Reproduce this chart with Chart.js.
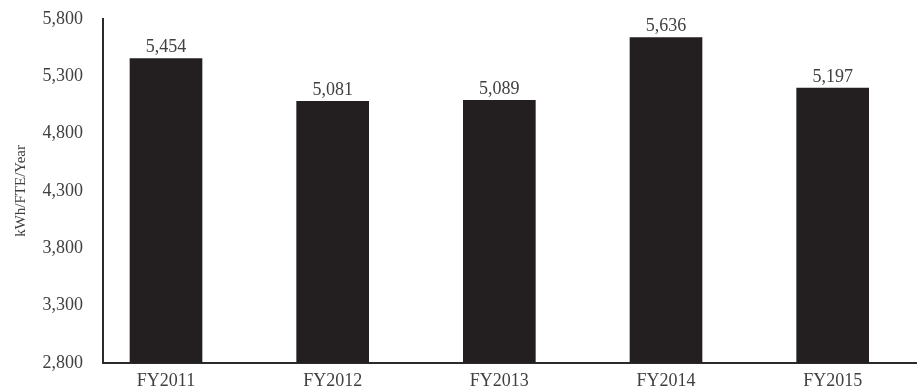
<!DOCTYPE html>
<html>
<head>
<meta charset="utf-8">
<script src="https://cdn.jsdelivr.net/npm/chart.js@4.4.0/dist/chart.umd.min.js"></script>
<style>
  html,body{margin:0;padding:0;background:#fff;}
  #wrap{width:920px;height:390px;}
</style>
</head>
<body>
<div id="wrap"><canvas id="c" width="920" height="390"></canvas></div>
<script>
const categories = ['FY2011','FY2012','FY2013','FY2014','FY2015'];
const values = [5454, 5081, 5089, 5636, 5197];
const yTicks = [2800, 3300, 3800, 4300, 4800, 5300, 5800];

function fmt(n){ return n.toLocaleString('en-US'); }

const FONT = '"Liberation Serif", "DejaVu Serif", serif';
const TXT = '#404040';

// value labels above each bar
const barLabels = {
  id:'barLabels',
  afterDatasetsDraw(chart){
    const ctx = chart.ctx;
    const meta = chart.getDatasetMeta(0);
    ctx.save();
    ctx.font = '18px ' + FONT;
    ctx.fillStyle = TXT;
    ctx.textAlign = 'center';
    ctx.textBaseline = 'bottom';
    meta.data.forEach((bar,i)=>{
      ctx.fillText(fmt(values[i]), bar.x, bar.y - 2);
    });
    ctx.restore();
  }
};

const hidden = 'rgba(0,0,0,0)';

new Chart(document.getElementById('c').getContext('2d'), {
  type:'bar',
  data:{
    datasets:[{
      data: values.map((v,i)=>({x:i, y:v})),
      backgroundColor:'#231f20',
      borderWidth:0,
      barThickness:72
    }]
  },
  options:{
    responsive:false, animation:false,
    layout:{ padding:{ top:0, right:4, left:0, bottom:0 } },
    plugins:{ legend:{display:false}, tooltip:{enabled:false} },
    scales:{
      x:{
        type:'linear', min:-0.378, max:4.5, offset:false,
        grid:{ display:false, offset:false, drawTicks:true, tickLength:6, tickColor:hidden },
        border:{ display:true, color:'#2b2b2b', width:2 },
        afterBuildTicks(s){ s.ticks = categories.map((c,i)=>({value:i})); },
        afterFit(s){ s.height = 27; },
        ticks:{ autoSkip:false, maxRotation:0, padding:1, color:TXT,
                font:{ family:FONT, size:18 },
                callback:(v)=> categories[v] }
      },
      y:{
        min:2800, max:5800,
        grid:{ display:false, drawTicks:true, tickLength:12, tickColor:hidden },
        border:{ display:true, color:'#2b2b2b', width:2 },
        afterBuildTicks(s){ s.ticks = yTicks.map(v=>({value:v})); },
        afterFit(s){ s.width = 103; },
        ticks:{ padding:8, color:TXT, font:{ family:FONT, size:18 },
                callback:(v)=> fmt(v) },
        title:{ display:true, text:'kWh/FTE/Year', color:TXT,
                font:{ family:FONT, size:15 }, padding:{top:12,bottom:0} }
      }
    }
  },
  plugins:[barLabels]
});
</script>
</body>
</html>
